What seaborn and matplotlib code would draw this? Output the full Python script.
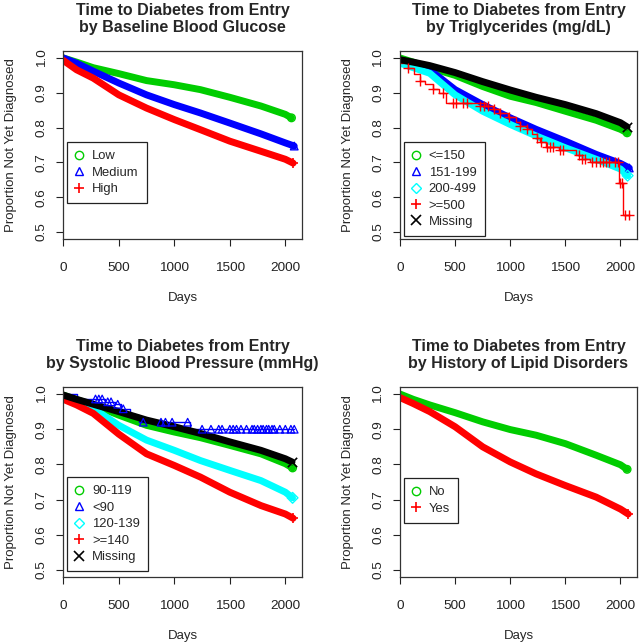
import numpy as np
import pandas as pd
import matplotlib
matplotlib.use('Agg')
import matplotlib.pyplot as plt
import seaborn as sns
from matplotlib.lines import Line2D

# curve values at these days (last point = end of follow-up)
grid = [0, 120, 270, 500, 750, 1000, 1235, 1500, 1780, 2000]

# panel 1: baseline blood glucose
glu_labels = ['Low', 'Medium', 'High']
glu_end = [2055, 2080, 2070]
glu_low = [1.0, 0.988, 0.972, 0.955, 0.935, 0.923, 0.909, 0.887, 0.862, 0.838, 0.828]
glu_med = [1.0, 0.985, 0.962, 0.928, 0.894, 0.866, 0.842, 0.813, 0.782, 0.756, 0.747]
glu_high = [0.993, 0.966, 0.942, 0.894, 0.856, 0.823, 0.794, 0.761, 0.732, 0.709, 0.698]

# panel 2: triglycerides
tg_labels = ['<=150', '151-199', '200-499', '>=500', 'Missing']
tg_end = [2060, 2080, 2065, 2075, 2060]
tg_150 = [1.0, 0.988, 0.972, 0.95, 0.918, 0.89, 0.872, 0.847, 0.821, 0.795, 0.785]
tg_199 = [0.99, 0.98, 0.966, 0.909, 0.866, 0.828, 0.795, 0.761, 0.723, 0.697, 0.684]
tg_499 = [0.985, 0.972, 0.956, 0.894, 0.847, 0.809, 0.776, 0.742, 0.709, 0.681, 0.662]
tg_miss = [0.995, 0.988, 0.978, 0.958, 0.932, 0.908, 0.887, 0.866, 0.84, 0.814, 0.802]
# >=500 group is small: step times / values and censor marks
tg500_step_days = [0, 10, 75, 130, 180, 230, 300, 350, 420, 780, 840, 900, 980, 1050,
                   1090, 1150, 1200, 1240, 1270, 1320, 1440, 1600, 1650, 1720, 1990, 2020, 2075]
tg500_step_vals = [1.0, 0.985, 0.97, 0.955, 0.935, 0.925, 0.91, 0.90, 0.87, 0.862, 0.852, 0.843,
                   0.829, 0.815, 0.805, 0.795, 0.782, 0.77, 0.76, 0.745, 0.735, 0.72, 0.71, 0.70,
                   0.64, 0.548, 0.548]
tg500_cens_days = [76, 180, 300, 390, 485, 510, 576, 606, 730, 760, 800, 850, 910, 990, 1090,
                   1150, 1240, 1280, 1330, 1360, 1390, 1450, 1480, 1620, 1650, 1680, 1740, 1780,
                   1810, 1840, 1870, 1900, 1950, 1980, 1995, 2010, 2045, 2075]
tg500_cens_vals = [0.97, 0.935, 0.91, 0.90, 0.87, 0.87, 0.87, 0.87, 0.862, 0.862, 0.862, 0.852,
                   0.843, 0.829, 0.805, 0.795, 0.77, 0.76, 0.745, 0.745, 0.745, 0.735, 0.735,
                   0.72, 0.71, 0.71, 0.70, 0.70, 0.70, 0.70, 0.70, 0.70, 0.70, 0.70, 0.64, 0.64,
                   0.548, 0.548]

# panel 3: systolic blood pressure
bp_labels = ['90-119', '<90', '120-139', '>=140', 'Missing']
bp_end = [2065, 2080, 2065, 2070, 2060]
bp_119 = [0.997, 0.984, 0.969, 0.94, 0.911, 0.892, 0.876, 0.854, 0.83, 0.802, 0.79]
bp_139 = [0.99, 0.975, 0.959, 0.911, 0.869, 0.84, 0.811, 0.783, 0.754, 0.721, 0.705]
bp_140 = [0.985, 0.969, 0.945, 0.886, 0.83, 0.797, 0.764, 0.721, 0.683, 0.659, 0.647]
bp_miss = [0.997, 0.985, 0.971, 0.95, 0.926, 0.907, 0.888, 0.864, 0.84, 0.816, 0.807]
bp90_step_days = [0, 120, 380, 470, 520, 600, 680, 1140, 2080]
bp90_step_vals = [1.0, 0.986, 0.978, 0.971, 0.958, 0.94, 0.92, 0.90, 0.90]
bp90_cens_days = [290, 320, 350, 400, 430, 490, 540, 720, 880, 920, 980, 1120, 1250, 1330,
                  1400, 1430, 1500, 1530, 1560, 1600, 1650, 1700, 1720, 1750, 1780, 1800, 1830,
                  1850, 1880, 1900, 1950, 2000, 2050, 2080]
bp90_cens_vals = [0.986, 0.986, 0.986, 0.978, 0.978, 0.971, 0.958, 0.92, 0.92, 0.92, 0.92,
                  0.92] + [0.90] * 22

# panel 4: history of lipid disorders
lip_labels = ['No', 'Yes']
lip_end = [2060, 2070]
lip_no = [1.0, 0.985, 0.969, 0.947, 0.921, 0.899, 0.883, 0.859, 0.826, 0.799, 0.786]
lip_yes = [0.99, 0.973, 0.95, 0.907, 0.85, 0.807, 0.773, 0.74, 0.707, 0.673, 0.659]

GREEN, BLUE, RED, CYAN, BLACK = '#00cd00', '#0000ff', '#ff0000', '#00ffff', '#000000'
mk = {'o': GREEN, '^': BLUE, '+': RED, 'D': CYAN, 'x': BLACK}

sns.set_style('white')
plt.rcParams['font.family'] = ['Liberation Sans', 'DejaVu Sans']

W, H = 641, 643
fig = plt.figure(figsize=(W / 100, H / 100), dpi=100)


def make_ax(x0, x1, y0, y1):
    return fig.add_axes([x0 / W, 1 - y1 / H, (x1 - x0) / W, (y1 - y0) / H])


def band(ax, vals, end, color, marker):
    df = pd.DataFrame({'day': grid + [end], 'surv': vals})
    sns.lineplot(data=df, x='day', y='surv', ax=ax, color=color, lw=5,
                 solid_capstyle='round', solid_joinstyle='round')
    if marker in ('+', 'x'):
        ax.scatter([end], [vals[-1]], marker=marker, color=color, s=45, lw=1.2, zorder=5)
    else:
        ax.scatter([end], [vals[-1]], marker=marker, facecolors='none', edgecolors=color,
                   s=30, lw=1.0, zorder=5)


def sparse(ax, sd, sv, cd, cv, color, marker):
    df = pd.DataFrame({'day': sd, 'surv': sv})
    sns.lineplot(data=df, x='day', y='surv', ax=ax, color=color, lw=1.0,
                 drawstyle='steps-post', sort=False)
    if marker in ('+', 'x'):
        ax.scatter(cd, cv, marker=marker, color=color, s=45, lw=1.0, zorder=5)
    else:
        ax.scatter(cd, cv, marker=marker, facecolors='none', edgecolors=color,
                   s=30, lw=0.9, zorder=5)


def style(ax, title, labels, markers, top):
    ax.set_xlim(0, 2150)
    ax.set_ylim(0.48, 1.02)
    ax.set_xticks([0, 500, 1000, 1500, 2000])
    ax.set_yticks([0.5, 0.6, 0.7, 0.8, 0.9, 1.0])
    ax.set_yticklabels(['0.5', '0.6', '0.7', '0.8', '0.9', '1.0'], rotation=90, va='center')
    ax.tick_params(direction='out', length=5.3, width=0.8, labelsize=9.7,
                   left=True, bottom=True, colors='#222222')
    ax.tick_params(axis='x', pad=11)
    ax.tick_params(axis='y', pad=6)
    for s in ax.spines.values():
        s.set_visible(True)
        s.set_color('#333333')
        s.set_linewidth(0.9)
    ax.set_xlabel('Days', fontsize=9.5, labelpad=13)
    ax.set_ylabel('Proportion Not Yet Diagnosed', fontsize=9.5, labelpad=13.5)
    ax.set_title(title, fontsize=11.5, fontweight='bold', pad=14, linespacing=1.15)
    handles = []
    for m in markers:
        if m in ('+', 'x'):
            handles.append(Line2D([], [], ls='none', marker=m, color=mk[m], ms=7, mew=1.2))
        else:
            handles.append(Line2D([], [], ls='none', marker=m, mfc='none', mec=mk[m],
                                  ms=6 if m != 'D' else 5, mew=1.0))
    leg = ax.legend(handles, labels, loc='upper left', bbox_to_anchor=(0.015, top),
                    fontsize=9.4, frameon=True, fancybox=False, framealpha=1,
                    edgecolor='#222222', handlelength=0.6, handletextpad=0.7,
                    labelspacing=0.33, borderpad=0.62, borderaxespad=0)
    leg.get_frame().set_linewidth(0.9)


# top left
ax1 = make_ax(63.3, 302, 51, 239)
for vals, end, c, m in zip([glu_low, glu_med, glu_high], glu_end,
                           [GREEN, BLUE, RED], ['o', '^', '+']):
    band(ax1, vals, end, c, m)
style(ax1, 'Time to Diabetes from Entry\nby Baseline Blood Glucose', glu_labels,
      ['o', '^', '+'], 0.516)

# top right
ax2 = make_ax(400, 637, 51, 239)
band(ax2, tg_150, tg_end[0], GREEN, 'o')
band(ax2, tg_199, tg_end[1], BLUE, '^')
band(ax2, tg_499, tg_end[2], CYAN, 'D')
sparse(ax2, tg500_step_days, tg500_step_vals, tg500_cens_days, tg500_cens_vals, RED, '+')
band(ax2, tg_miss, tg_end[4], BLACK, 'x')
style(ax2, 'Time to Diabetes from Entry\nby Triglycerides (mg/dL)', tg_labels,
      ['o', '^', 'D', '+', 'x'], 0.516)

# bottom left
ax3 = make_ax(63.3, 302, 387, 577)
band(ax3, bp_119, bp_end[0], GREEN, 'o')
sparse(ax3, bp90_step_days, bp90_step_vals, bp90_cens_days, bp90_cens_vals, BLUE, '^')
band(ax3, bp_139, bp_end[2], CYAN, 'D')
band(ax3, bp_140, bp_end[3], RED, '+')
band(ax3, bp_miss, bp_end[4], BLACK, 'x')
style(ax3, 'Time to Diabetes from Entry\nby Systolic Blood Pressure (mmHg)', bp_labels,
      ['o', '^', 'D', '+', 'x'], 0.526)

# bottom right
ax4 = make_ax(400, 637, 387, 577)
band(ax4, lip_no, lip_end[0], GREEN, 'o')
band(ax4, lip_yes, lip_end[1], RED, '+')
style(ax4, 'Time to Diabetes from Entry\nby History of Lipid Disorders', lip_labels,
      ['o', '+'], 0.521)

fig.savefig('out.png', dpi=100, facecolor='white')
